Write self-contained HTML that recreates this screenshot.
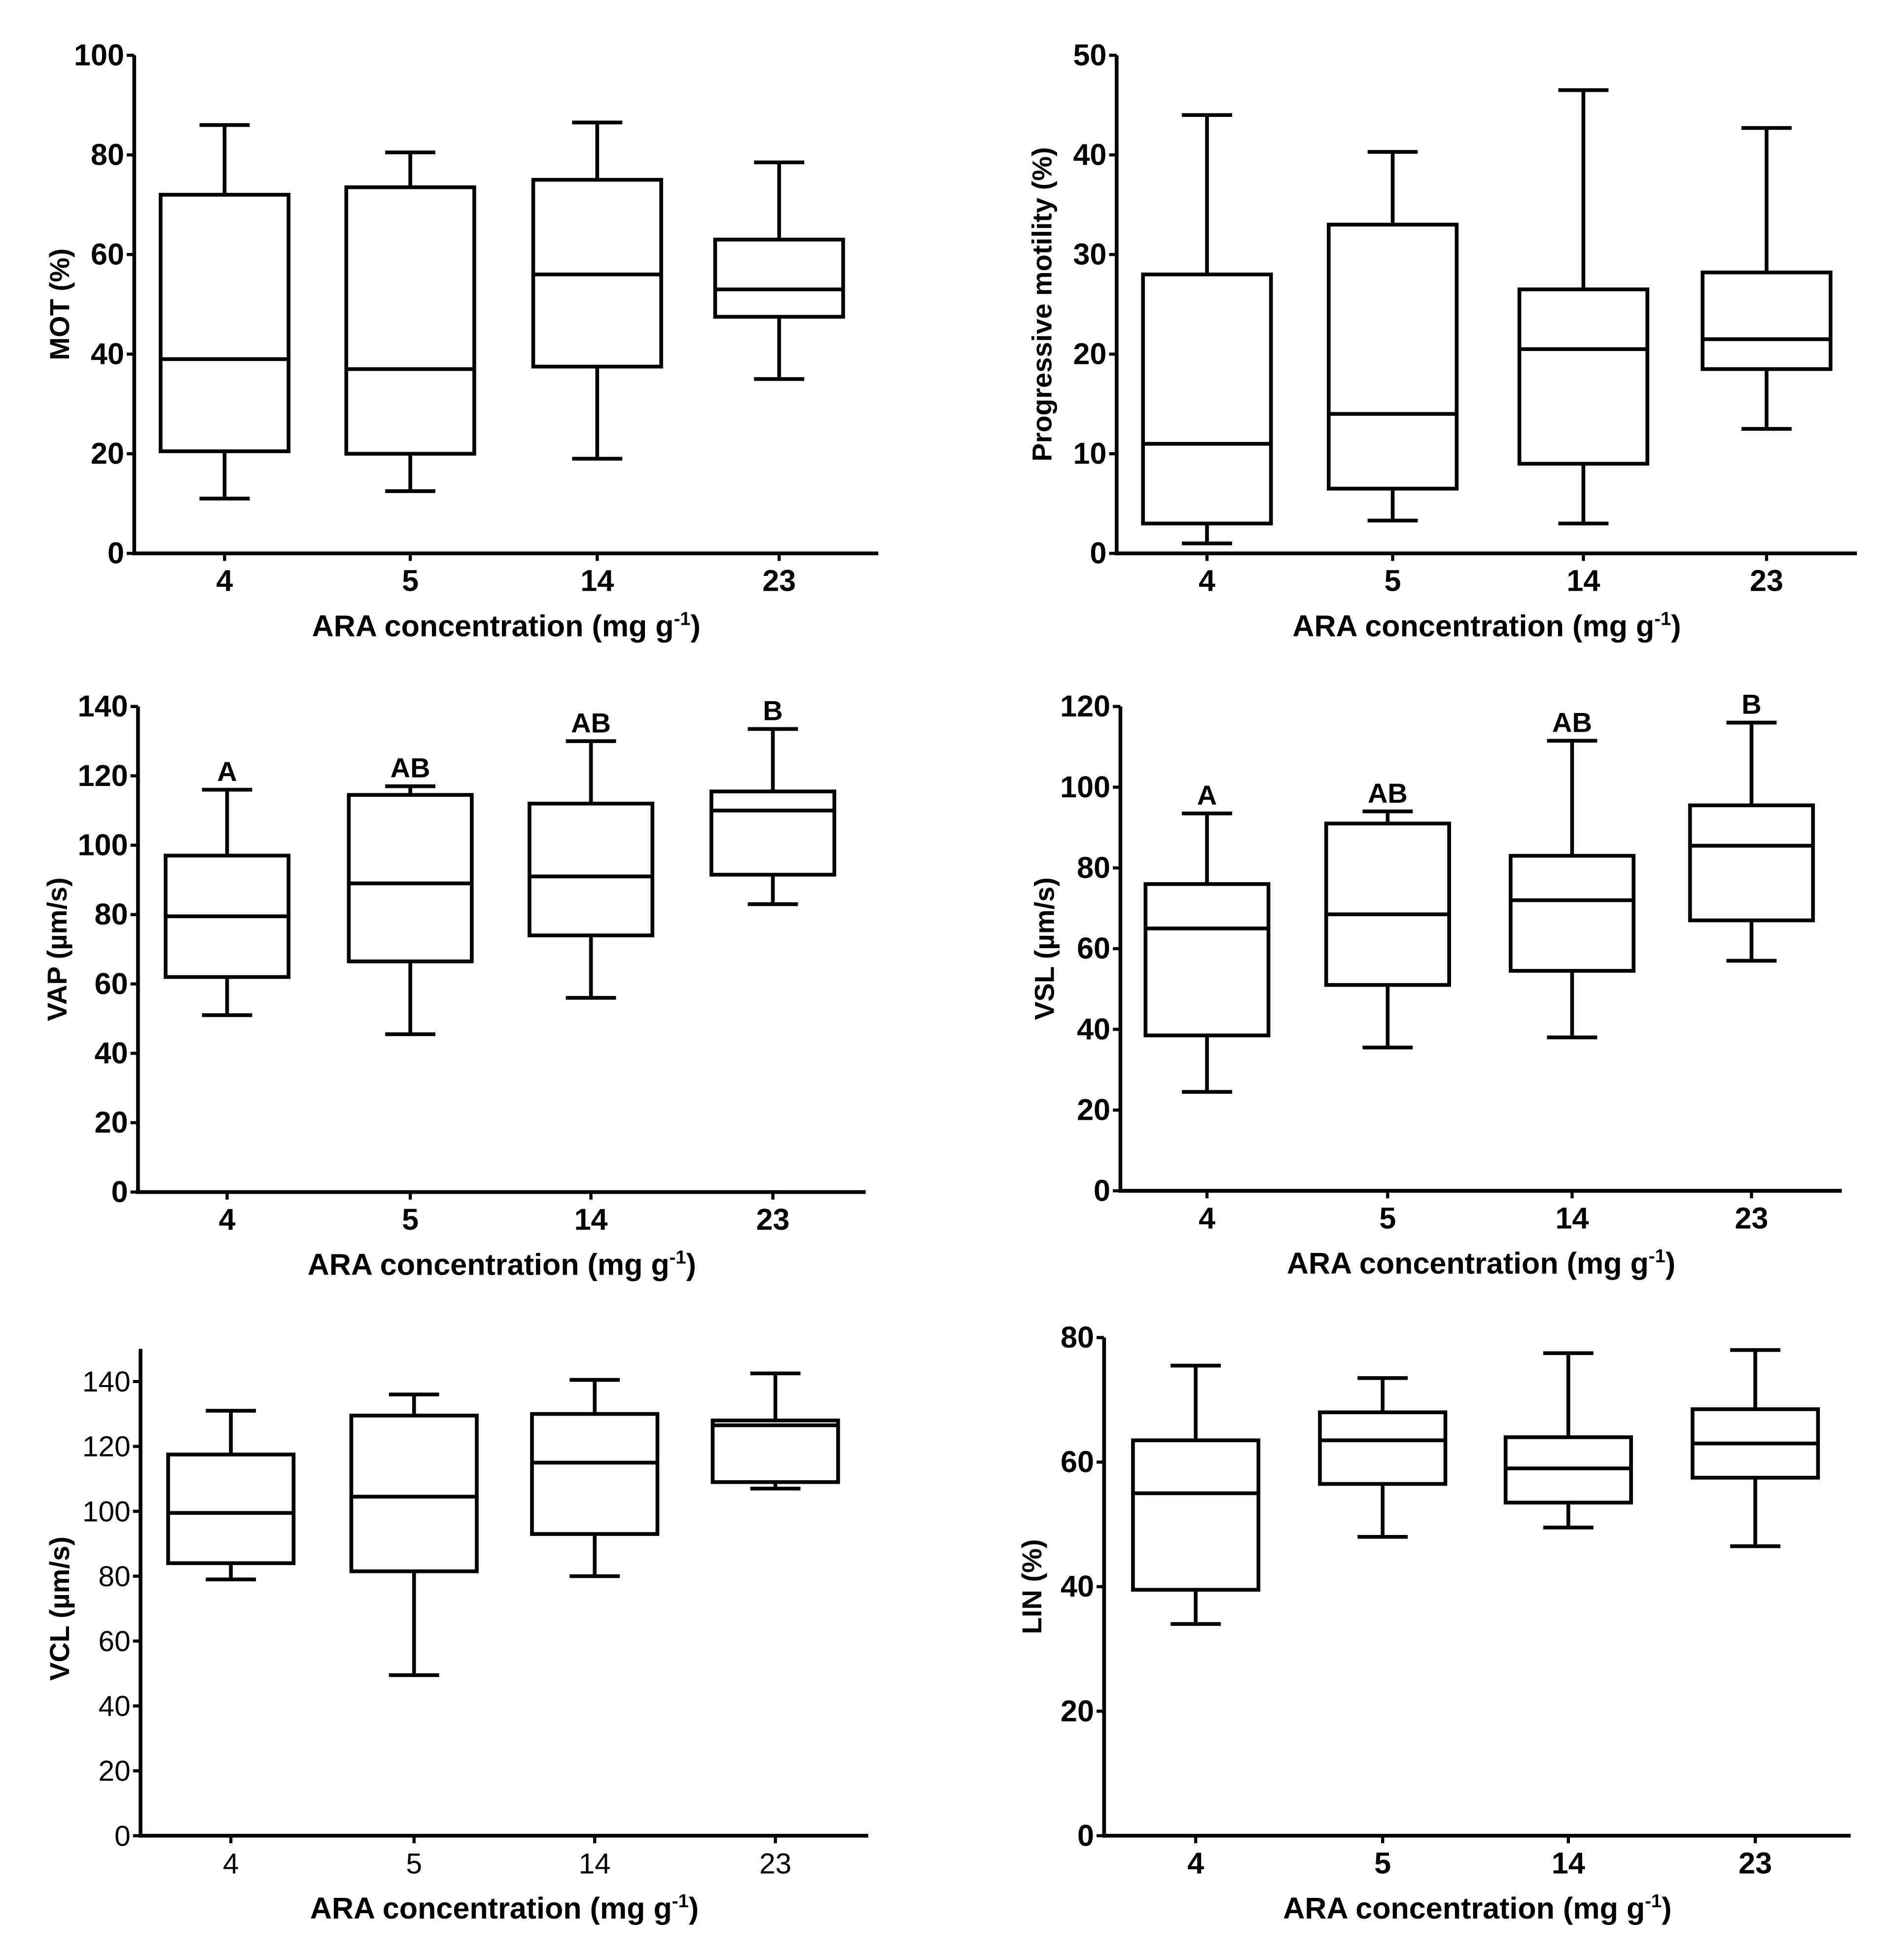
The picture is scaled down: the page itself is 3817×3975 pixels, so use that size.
<!DOCTYPE html>
<html><head><meta charset="utf-8"><style>
html,body{margin:0;padding:0;background:#fff}
svg{display:block}
.tk{font-family:"Liberation Sans Narrow","Liberation Sans",sans-serif;font-weight:bold;font-size:24px}
.yt{font-family:"Liberation Sans",sans-serif;font-weight:bold;font-size:22px}
.xt{font-family:"Liberation Sans Narrow","Liberation Sans",sans-serif;font-weight:bold;font-size:24px}
.lt{font-family:"Liberation Sans",sans-serif;font-size:23px}
</style></head><body>
<svg id="fig" width="3817" height="3975" viewBox="0 0 1500 1562" xmlns="http://www.w3.org/2000/svg"></svg>
<script>
const categories = ["4","5","14","23"];
// each series: [min, q1, median, q3, max] per category
const motMin=[11,12.5,19,35], motQ1=[20.5,20,37.5,47.5], motMed=[39,37,56,53], motQ3=[72,73.5,75,63], motMax=[86,80.5,86.5,78.5];
const progMin=[1,3.3,3,12.5], progQ1=[3,6.5,9,18.5], progMed=[11,14,20.5,21.5], progQ3=[28,33,26.5,28.2], progMax=[44,40.3,46.5,42.7];
const vapMin=[51,45.5,56,83], vapQ1=[62,66.5,74,91.5], vapMed=[79.5,89,91,110], vapQ3=[97,114.5,112,115.5], vapMax=[116,117,130,133.5];
const vslMin=[24.5,35.5,38,57], vslQ1=[38.5,51,54.5,67], vslMed=[65,68.5,72,85.5], vslQ3=[76,91,83,95.5], vslMax=[93.5,94,111.5,116];
const vclMin=[79,49.5,80,107], vclQ1=[84,81.5,93,109], vclMed=[99.5,104.5,115,126.5], vclQ3=[117.5,129.5,130,128], vclMax=[131,136,140.5,142.5];
const linMin=[34,48,49.5,46.5], linQ1=[39.5,56.5,53.5,57.5], linMed=[55,63.5,59,63], linQ3=[63.5,68,64,68.5], linMax=[75.5,73.5,77.5,78];
const sigLetters=["A","AB","AB","B"];
const motTicks=[0,20,40,60,80,100], progTicks=[0,10,20,30,40,50], vapTicks=[0,20,40,60,80,100,120,140];
const vslTicks=[0,20,40,60,80,100,120], vclTicks=[0,20,40,60,80,100,120,140], linTicks=[0,20,40,60,80];

const NS="http://www.w3.org/2000/svg";
const svg=document.getElementById('fig');
function mk(tag,attrs,parent){const e=document.createElementNS(NS,tag);for(const k in attrs)e.setAttribute(k,attrs[k]);(parent||svg).appendChild(e);return e;}

function panel(p){
  const g=mk('g',{});
  
  
  const y=v=>p.y0-(v-p.vmin)/(p.vmax-p.vmin)*(p.y0-p.y1);
  const ya=mk('line',{x1:p.ax,y1:p.atop,x2:p.ax,y2:p.y0+1.5,stroke:'#000','stroke-width':3},g);
  
  const xa=mk('line',{x1:p.ax-1.5,y1:p.y0,x2:p.axr,y2:p.y0,stroke:'#000','stroke-width':3},g);
  
  p.ticks.forEach(t=>{
    const l=mk('line',{x1:p.ax-6,y1:y(t),x2:p.ax,y2:y(t),stroke:'#000','stroke-width':2.5},g);
    
    const tx=mk('text',{x:p.ax-8,y:y(t)+8,'text-anchor':'end',class:p.small?'lt':'tk'},g);
    tx.textContent=t;
    
  });
  const yl=mk('text',{x:0,y:0,'text-anchor':'middle',class:'yt',transform:`translate(${p.ylx},${(p.y0+p.y1)/2}) rotate(-90)`},g);
  yl.innerHTML=p.ylabel;
  
  const xl=mk('text',{x:(p.ax+p.axr)/2,y:p.y0+66,'text-anchor':'middle',class:'xt'},g);
  xl.innerHTML='ARA concentration (mg g<tspan dy="-9" font-size="15">-1</tspan><tspan dy="9">)</tspan>';
  
  categories.forEach((c,i)=>{
    const cx=p.cx[i];
    const tk=mk('line',{x1:cx,y1:p.y0,x2:cx,y2:p.y0+6,stroke:'#000','stroke-width':2.5},g);
    
    const tl=mk('text',{x:cx,y:p.y0+30,'text-anchor':'middle',class:p.small?'lt':'tk'},g);
    tl.textContent=c;
    
    const bg=mk('g',{},g);
    
    const mn=y(p.min[i]),q1=y(p.q1[i]),md=y(p.med[i]),q3=y(p.q3[i]),mx=y(p.max[i]);
    const s={stroke:'#000','stroke-width':3,fill:'none'};
    mk('line',Object.assign({x1:cx,y1:q3,x2:cx,y2:mx},s),bg);
    mk('line',Object.assign({x1:cx,y1:q1,x2:cx,y2:mn},s),bg);
    mk('line',Object.assign({x1:cx-20,y1:mx,x2:cx+20,y2:mx},s),bg);
    mk('line',Object.assign({x1:cx-20,y1:mn,x2:cx+20,y2:mn},s),bg);
    mk('rect',Object.assign({x:cx-p.hw,y:q3,width:2*p.hw,height:q1-q3},s),bg);
    mk('line',Object.assign({x1:cx-p.hw,y1:md,x2:cx+p.hw,y2:md},s),bg);
    if(p.letters){
      const lt=mk('text',{x:cx,y:mx-7,'text-anchor':'middle',class:'yt','font-size':26},g);
      lt.textContent=p.letters[i];
      
    }
  });
}

panel({name:'mot',ax:107,axr:700,atop:44,y0:441,y1:44,vmin:0,vmax:100,ticks:motTicks,cx:[179,327,476,621],hw:51,ylx:55,ylabel:'MOT (%)',min:motMin,q1:motQ1,med:motMed,q3:motQ3,max:motMax});
panel({name:'progressive-motility',ax:890,axr:1480,atop:44,y0:441,y1:44,vmin:0,vmax:50,ticks:progTicks,cx:[962,1110,1262,1408],hw:51,ylx:838,ylabel:'Progressive motility (%)',min:progMin,q1:progQ1,med:progMed,q3:progQ3,max:progMax});
panel({name:'vap',ax:110,axr:690,atop:563,y0:950,y1:563,vmin:0,vmax:140,ticks:vapTicks,cx:[181,327,471,616],hw:49,ylx:53,ylabel:'VAP (µm/s)',min:vapMin,q1:vapQ1,med:vapMed,q3:vapQ3,max:vapMax,letters:sigLetters});
panel({name:'vsl',ax:893,axr:1468,atop:563,y0:949,y1:563,vmin:0,vmax:120,ticks:vslTicks,cx:[962,1106,1253,1396],hw:49,ylx:840,ylabel:'VSL (µm/s)',min:vslMin,q1:vslQ1,med:vslMed,q3:vslQ3,max:vslMax,letters:sigLetters});
panel({name:'vcl',ax:112,axr:692,atop:1075,y0:1463,y1:1101,vmin:0,vmax:140,ticks:vclTicks,cx:[184,330,474,618],hw:50,ylx:55,ylabel:'VCL (µm/s)',min:vclMin,q1:vclQ1,med:vclMed,q3:vclQ3,max:vclMax,small:true});
panel({name:'lin',ax:880,axr:1475,atop:1066,y0:1463,y1:1066,vmin:0,vmax:80,ticks:linTicks,cx:[953,1102,1250,1399],hw:50,ylx:830,ylabel:'LIN (%)',min:linMin,q1:linQ1,med:linMed,q3:linQ3,max:linMax});
</script>
</body></html>
